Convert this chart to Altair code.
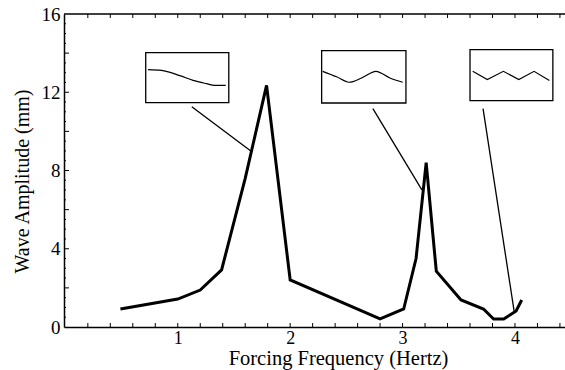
import altair as alt
import pandas as pd

# ---- data ----
freq = [0.49, 1.0, 1.2, 1.39, 1.6, 1.79, 2.0, 2.8, 3.01, 3.12, 3.21, 3.3, 3.52, 3.72, 3.81, 3.9, 4.01, 4.06]
amp = [0.92, 1.43, 1.89, 2.92, 7.6, 12.35, 2.41, 0.41, 0.92, 3.5, 8.4, 2.85, 1.38, 0.92, 0.41, 0.41, 0.82, 1.38]

box_x1 = [0.715, 2.280, 3.600]
box_x2 = [1.454, 3.030, 4.337]
box_y1 = [11.47, 11.45, 11.57]
box_y2 = [14.03, 14.13, 14.18]

leader_x1 = [1.125, 2.736, 3.716]
leader_y1 = [11.26, 11.16, 11.16]
leader_x2 = [1.659, 3.172, 3.992]
leader_y2 = [8.96, 7.01, 0.82]

wave1_x = [0.736, 0.855, 1.018, 1.136, 1.256, 1.329, 1.427]
wave1_y = [13.16, 13.12, 12.85, 12.61, 12.44, 12.35, 12.35]
wave2_x = [2.289, 2.413, 2.525, 2.636, 2.763, 2.888, 3.001]
wave2_y = [13.07, 12.79, 12.51, 12.73, 13.07, 12.73, 12.51]
wave3_x = [3.624, 3.754, 3.897, 4.034, 4.170, 4.306]
wave3_y = [13.07, 12.65, 13.07, 12.65, 13.07, 12.60]

x_tick_labels = [1, 2, 3, 4]
y_tick_labels = [0, 4, 8, 12, 16]
x_minor_ticks = [0.2, 0.4, 0.6, 0.8, 1.0, 1.2, 1.4, 1.6, 1.8, 2.0, 2.2, 2.4, 2.6, 2.8,
                 3.0, 3.2, 3.4, 3.6, 3.8, 4.0, 4.2, 4.4]
y_major_ticks = [2, 4, 6, 8, 10, 12, 14]
y_minor_ticks = [0.5, 1, 1.5, 2.5, 3, 3.5, 4.5, 5, 5.5, 6.5, 7, 7.5, 8.5, 9, 9.5,
                 10.5, 11, 11.5, 12.5, 13, 13.5, 14.5, 15, 15.5]

W, H = 501, 313
FONT = "'Liberation Serif', 'Times New Roman', serif"

xs = alt.Scale(domain=[-0.012, 4.445], nice=False, zero=False)
ys = alt.Scale(domain=[0, 16], nice=False, zero=False)

AX = alt.Axis(
    values=x_tick_labels, ticks=False, tickSize=0, grid=False, domain=True,
    domainColor="black", domainWidth=1.5, labelFont=FONT, labelFontSize=18,
    labelColor="black", labelPadding=2, title="Forcing Frequency (Hertz)",
    titleFont=FONT, titleFontSize=20.5, titleFontWeight="normal", titleColor="black",
    titleX=274, titleY=21, titleAlign="center", titleBaseline="top")
AY = alt.Axis(
    values=y_tick_labels, ticks=False, tickSize=0, grid=False, domain=True,
    domainColor="black", domainWidth=1.5, labelFont=FONT, labelFontSize=19,
    labelColor="black", labelPadding=4, title="Wave Amplitude (mm)",
    titleFont=FONT, titleFontSize=20, titleFontWeight="normal", titleColor="black",
    titleX=-42, titleY=167, titleAngle=-90, titleAlign="center", titleBaseline="middle")

main_df = pd.DataFrame({"f": freq, "a": amp})
box_df = pd.DataFrame({"x1": box_x1, "x2": box_x2, "y1": box_y1, "y2": box_y2})
lead_df = pd.DataFrame({"x1": leader_x1, "x2": leader_x2, "y1": leader_y1, "y2": leader_y2})
w1 = pd.DataFrame({"x": wave1_x, "y": wave1_y})
w2 = pd.DataFrame({"x": wave2_x, "y": wave2_y})
w3 = pd.DataFrame({"x": wave3_x, "y": wave3_y})

main = alt.Chart(main_df).mark_line(color="black", strokeWidth=3, strokeJoin="miter").encode(
    x=alt.X("f:Q", scale=xs, axis=AX),
    y=alt.Y("a:Q", scale=ys, axis=AY),
)

boxes = alt.Chart(box_df).mark_rect(fill="white", stroke="black", strokeWidth=1.3).encode(
    x=alt.X("x1:Q", scale=xs, axis=AX), x2="x2:Q",
    y=alt.Y("y1:Q", scale=ys, axis=AY), y2="y2:Q")

leaders = alt.Chart(lead_df).mark_rule(color="black", strokeWidth=1.3).encode(
    x=alt.X("x1:Q", scale=xs, axis=AX), x2="x2:Q",
    y=alt.Y("y1:Q", scale=ys, axis=AY), y2="y2:Q")

def wave(df, interp):
    return alt.Chart(df).mark_line(color="black", strokeWidth=1.2, interpolate=interp).encode(
        x=alt.X("x:Q", scale=xs, axis=AX), y=alt.Y("y:Q", scale=ys, axis=AY))

waves = wave(w1, "monotone") + wave(w2, "monotone") + wave(w3, "linear")

xt_df = pd.DataFrame({"t": x_minor_ticks})
bottom_ticks = alt.Chart(xt_df).mark_rule(color="black", strokeWidth=1).encode(
    x=alt.X("t:Q", scale=xs, axis=AX), y=alt.value(H), y2=alt.value(H - 4))
top_ticks = alt.Chart(xt_df).mark_rule(color="black", strokeWidth=1).encode(
    x=alt.X("t:Q", scale=xs, axis=AX), y=alt.value(0), y2=alt.value(4))
left_major = alt.Chart(pd.DataFrame({"t": y_major_ticks})).mark_rule(color="black", strokeWidth=1).encode(
    y=alt.Y("t:Q", scale=ys, axis=AY), x=alt.value(0), x2=alt.value(5))
left_minor = alt.Chart(pd.DataFrame({"t": y_minor_ticks})).mark_rule(color="black", strokeWidth=1).encode(
    y=alt.Y("t:Q", scale=ys, axis=AY), x=alt.value(0), x2=alt.value(2))
top_line = alt.Chart(pd.DataFrame({"t": [0]})).mark_rule(color="black", strokeWidth=1.5).encode(
    x=alt.value(0), x2=alt.value(W), y=alt.value(0))

chart = alt.layer(
    main, leaders, boxes, waves, bottom_ticks, top_ticks, left_major, left_minor, top_line
).properties(
    width=W, height=H,
    autosize=alt.AutoSizeParams(type="none"),
    padding={"left": 64, "top": 14, "right": 0, "bottom": 43},
    background="white",
).configure_view(stroke=None)

chart.save("out.html", embed_options={"renderer": "svg", "actions": False})
